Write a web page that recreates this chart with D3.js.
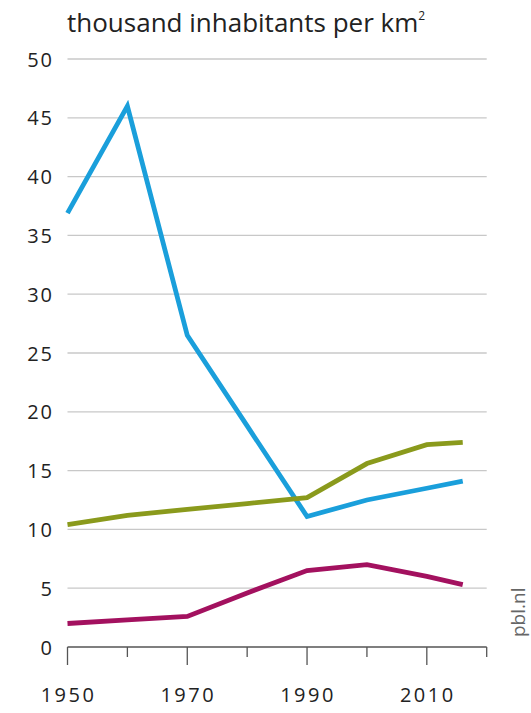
<!DOCTYPE html>
<html><head><meta charset="utf-8">
<script src="https://cdn.jsdelivr.net/npm/d3@7"></script>
<style>body{margin:0;background:#fff;}svg{display:block;font-family:"Open Sans","Noto Sans",sans-serif;}</style>
</head><body>
<svg id="c" width="531" height="713"></svg>
<script>
const years = [1950,1960,1970,1980,1990,2000,2010,2016];
const blue = [36.9,46.0,26.5,18.8,11.1,12.5,13.5,14.1];
const green = [10.4,11.2,11.7,12.2,12.7,15.6,17.2,17.4];
const magenta = [2.0,2.3,2.6,4.6,6.5,7.0,6.0,5.3];
const yTicks = [0,5,10,15,20,25,30,35,40,45,50];
const xMajor = [1950,1970,1990,2010];
const xMinor = [1960,1980,2000,2020];
const title = "thousand inhabitants per km";
const source = "pbl.nl";

const svg = d3.select("#c");
const x = d3.scaleLinear().domain([1950,2020]).range([67.5,486.7]);
const y = d3.scaleLinear().domain([0,50]).range([647,59]);

// gridlines
svg.append("g").selectAll("line").data(yTicks.filter(d=>d>0)).join("line")
  .attr("x1",x(1950)).attr("x2",x(2020)).attr("y1",d=>y(d)).attr("y2",d=>y(d))
  .attr("stroke","#c8c8c8").attr("stroke-width",1.3);

// y labels
svg.append("g").selectAll("text").data(yTicks).join("text")
  .attr("x",54).attr("y",d=>y(d)+7.5).attr("text-anchor","end")
  .attr("font-size",20).attr("letter-spacing",2).attr("fill","#222").text(d=>d);

// x axis
const xAxis = svg.append("g");
xAxis.append("line").attr("x1",x(1950)).attr("x2",x(2020)).attr("y1",647).attr("y2",647)
  .attr("stroke","#555").attr("stroke-width",1.3);
xAxis.selectAll("line.maj").data(xMajor).join("line").attr("class","maj")
  .attr("x1",d=>x(d)).attr("x2",d=>x(d)).attr("y1",647).attr("y2",665)
  .attr("stroke","#555").attr("stroke-width",1.3);
xAxis.selectAll("line.min").data(xMinor).join("line").attr("class","min")
  .attr("x1",d=>x(d)).attr("x2",d=>x(d)).attr("y1",647).attr("y2",657)
  .attr("stroke","#555").attr("stroke-width",1.3);
xAxis.selectAll("text").data(xMajor).join("text")
  .attr("x",d=>x(d)+1).attr("y",702).attr("text-anchor","middle")
  .attr("font-size",20).attr("letter-spacing",2.5).attr("fill","#222").text(d=>d);

// lines
const line = d3.line().x((d,i)=>x(years[i])).y(d=>y(d));
const series = [[blue,"#1a9fdb"],[green,"#8a9a1c"],[magenta,"#a3115f"]];
series.forEach(([vals,col])=>{
  svg.append("path").datum(vals).attr("d",line).attr("fill","none")
    .attr("stroke",col).attr("stroke-width",4.8).attr("stroke-linejoin","miter");
});

// title
const t = svg.append("text").attr("x",67).attr("y",32).attr("font-size",26).attr("fill","#222").text(title);
t.append("tspan").attr("font-size",12).attr("dy",-12).text("2");

// source
svg.append("text").attr("transform","translate(525,637) rotate(-90)")
  .attr("font-size",19).attr("fill","#666").text(source);
</script>
</body></html>
